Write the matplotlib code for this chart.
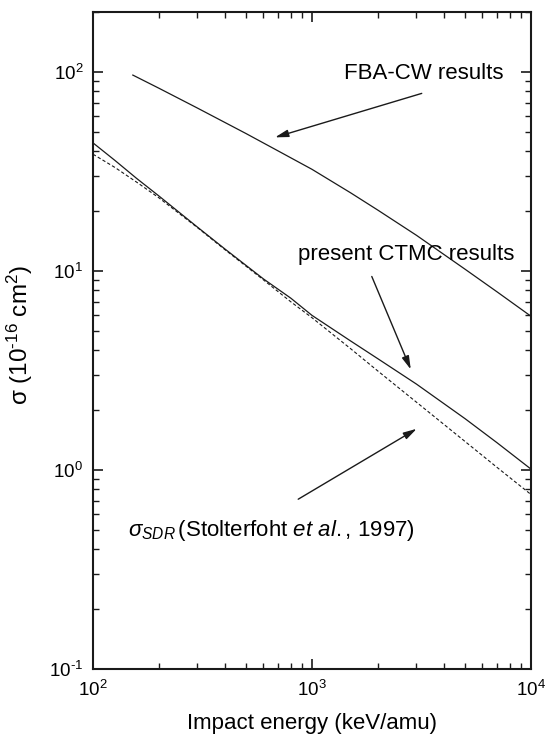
import matplotlib
matplotlib.use("Agg")
import matplotlib.pyplot as plt
from matplotlib.ticker import FuncFormatter
import math

plt.rcParams['font.family'] = ['Liberation Sans', 'DejaVu Sans']
plt.rcParams['mathtext.fontset'] = 'custom'
plt.rcParams['mathtext.rm'] = 'Liberation Sans'
plt.rcParams['mathtext.it'] = 'Liberation Sans:italic'
plt.rcParams['mathtext.bf'] = 'Liberation Sans:bold'
plt.rcParams['axes.unicode_minus'] = False

# FBA-CW results
fba_E = [152, 200, 300, 500, 700, 1000, 1500, 2000, 3000, 5000, 7000, 10000]
fba_sigma = [96.4, 82.8, 65.8, 49.0, 40.1, 32.4, 24.7, 20.2, 15.1, 10.2, 7.85, 5.92]

# present CTMC results
ctmc_E = [100, 126, 158, 200, 300, 400, 600, 800, 1000, 1500, 2000, 3000, 5000, 7000, 10000]
ctmc_sigma = [44.0, 35.9, 29.2, 23.8, 16.6, 12.9, 9.12, 7.3, 5.98, 4.45, 3.62, 2.70, 1.81, 1.37, 1.01]

# sigma_SDR (Stolterfoht et al., 1997)
sdr_E = [100, 126, 160, 200, 300, 400, 600, 800, 1000, 1500, 2000, 3000, 5000, 7000, 10000]
sdr_sigma = [38.6, 33.1, 27.7, 23.3, 16.5, 12.8, 9.02, 7.0, 5.82, 4.07, 3.14, 2.19, 1.39, 1.03, 0.753]


def pow10(v, pos):
    e = int(round(math.log10(v)))
    return r'$10^{\text{%d}}$' % e


fig = plt.figure(figsize=(5.52, 7.40), dpi=100)
ax = fig.add_axes([93/552, 1-669/740, (531-93)/552, (669-12)/740])

ax.plot(fba_E, fba_sigma, color='#1a1a1a', lw=0.9)
ax.plot(ctmc_E, ctmc_sigma, color='#1a1a1a', lw=0.9)
ax.plot(sdr_E, sdr_sigma, color='#1a1a1a', lw=0.8, dashes=(3.0, 2.0))

ax.set_xscale('log')
ax.set_yscale('log')
ax.set_xlim(100, 10000)
ax.set_ylim(0.1, 200)
ax.xaxis.set_major_formatter(FuncFormatter(pow10))
ax.yaxis.set_major_formatter(FuncFormatter(pow10))

for s in ax.spines.values():
    s.set_linewidth(1.5)
    s.set_color('#1a1a1a')

ax.tick_params(which='both', direction='in', top=True, right=True, color='#1a1a1a')
ax.tick_params(which='major', length=7.5, width=1.2, labelsize=13.5, pad=7)
ax.tick_params(which='minor', length=4.5, width=1.0)
ax.tick_params(axis='x', which='major', pad=8)

ax.set_xlabel('Impact energy (keV/amu)', fontsize=16, labelpad=9)
ax.set_ylabel(r'σ (10$^{\text{-16}}$ cm$^{2}$)', fontsize=17.5)
ax.yaxis.set_label_coords(-0.132, 0.508)

ap = dict(arrowstyle='-|>,head_length=0.8,head_width=0.22', lw=1.0, color='#1a1a1a',
          shrinkA=0, shrinkB=0, mutation_scale=10)

ax.text(3243, 98.2, 'FBA-CW results', fontsize=16, ha='center', va='center')
ax.annotate('', xy=(678, 46.9), xytext=(3170, 78), arrowprops=ap)

ax.text(2704, 12.06, 'present CTMC results', fontsize=16, ha='center', va='center')
ax.annotate('', xy=(2825, 3.2), xytext=(1875, 9.38), arrowprops=ap)

ax.text(144.8, 0.494,
        r'$\sigma_{SDR}\,\text{(Stolterfoht }\mathit{et\ al.}\text{, 1997)}$',
        fontsize=16, ha='left', va='center')
ax.annotate('', xy=(3006, 1.61), xytext=(865, 0.713), arrowprops=ap)

fig.savefig('out.png', dpi=100)
